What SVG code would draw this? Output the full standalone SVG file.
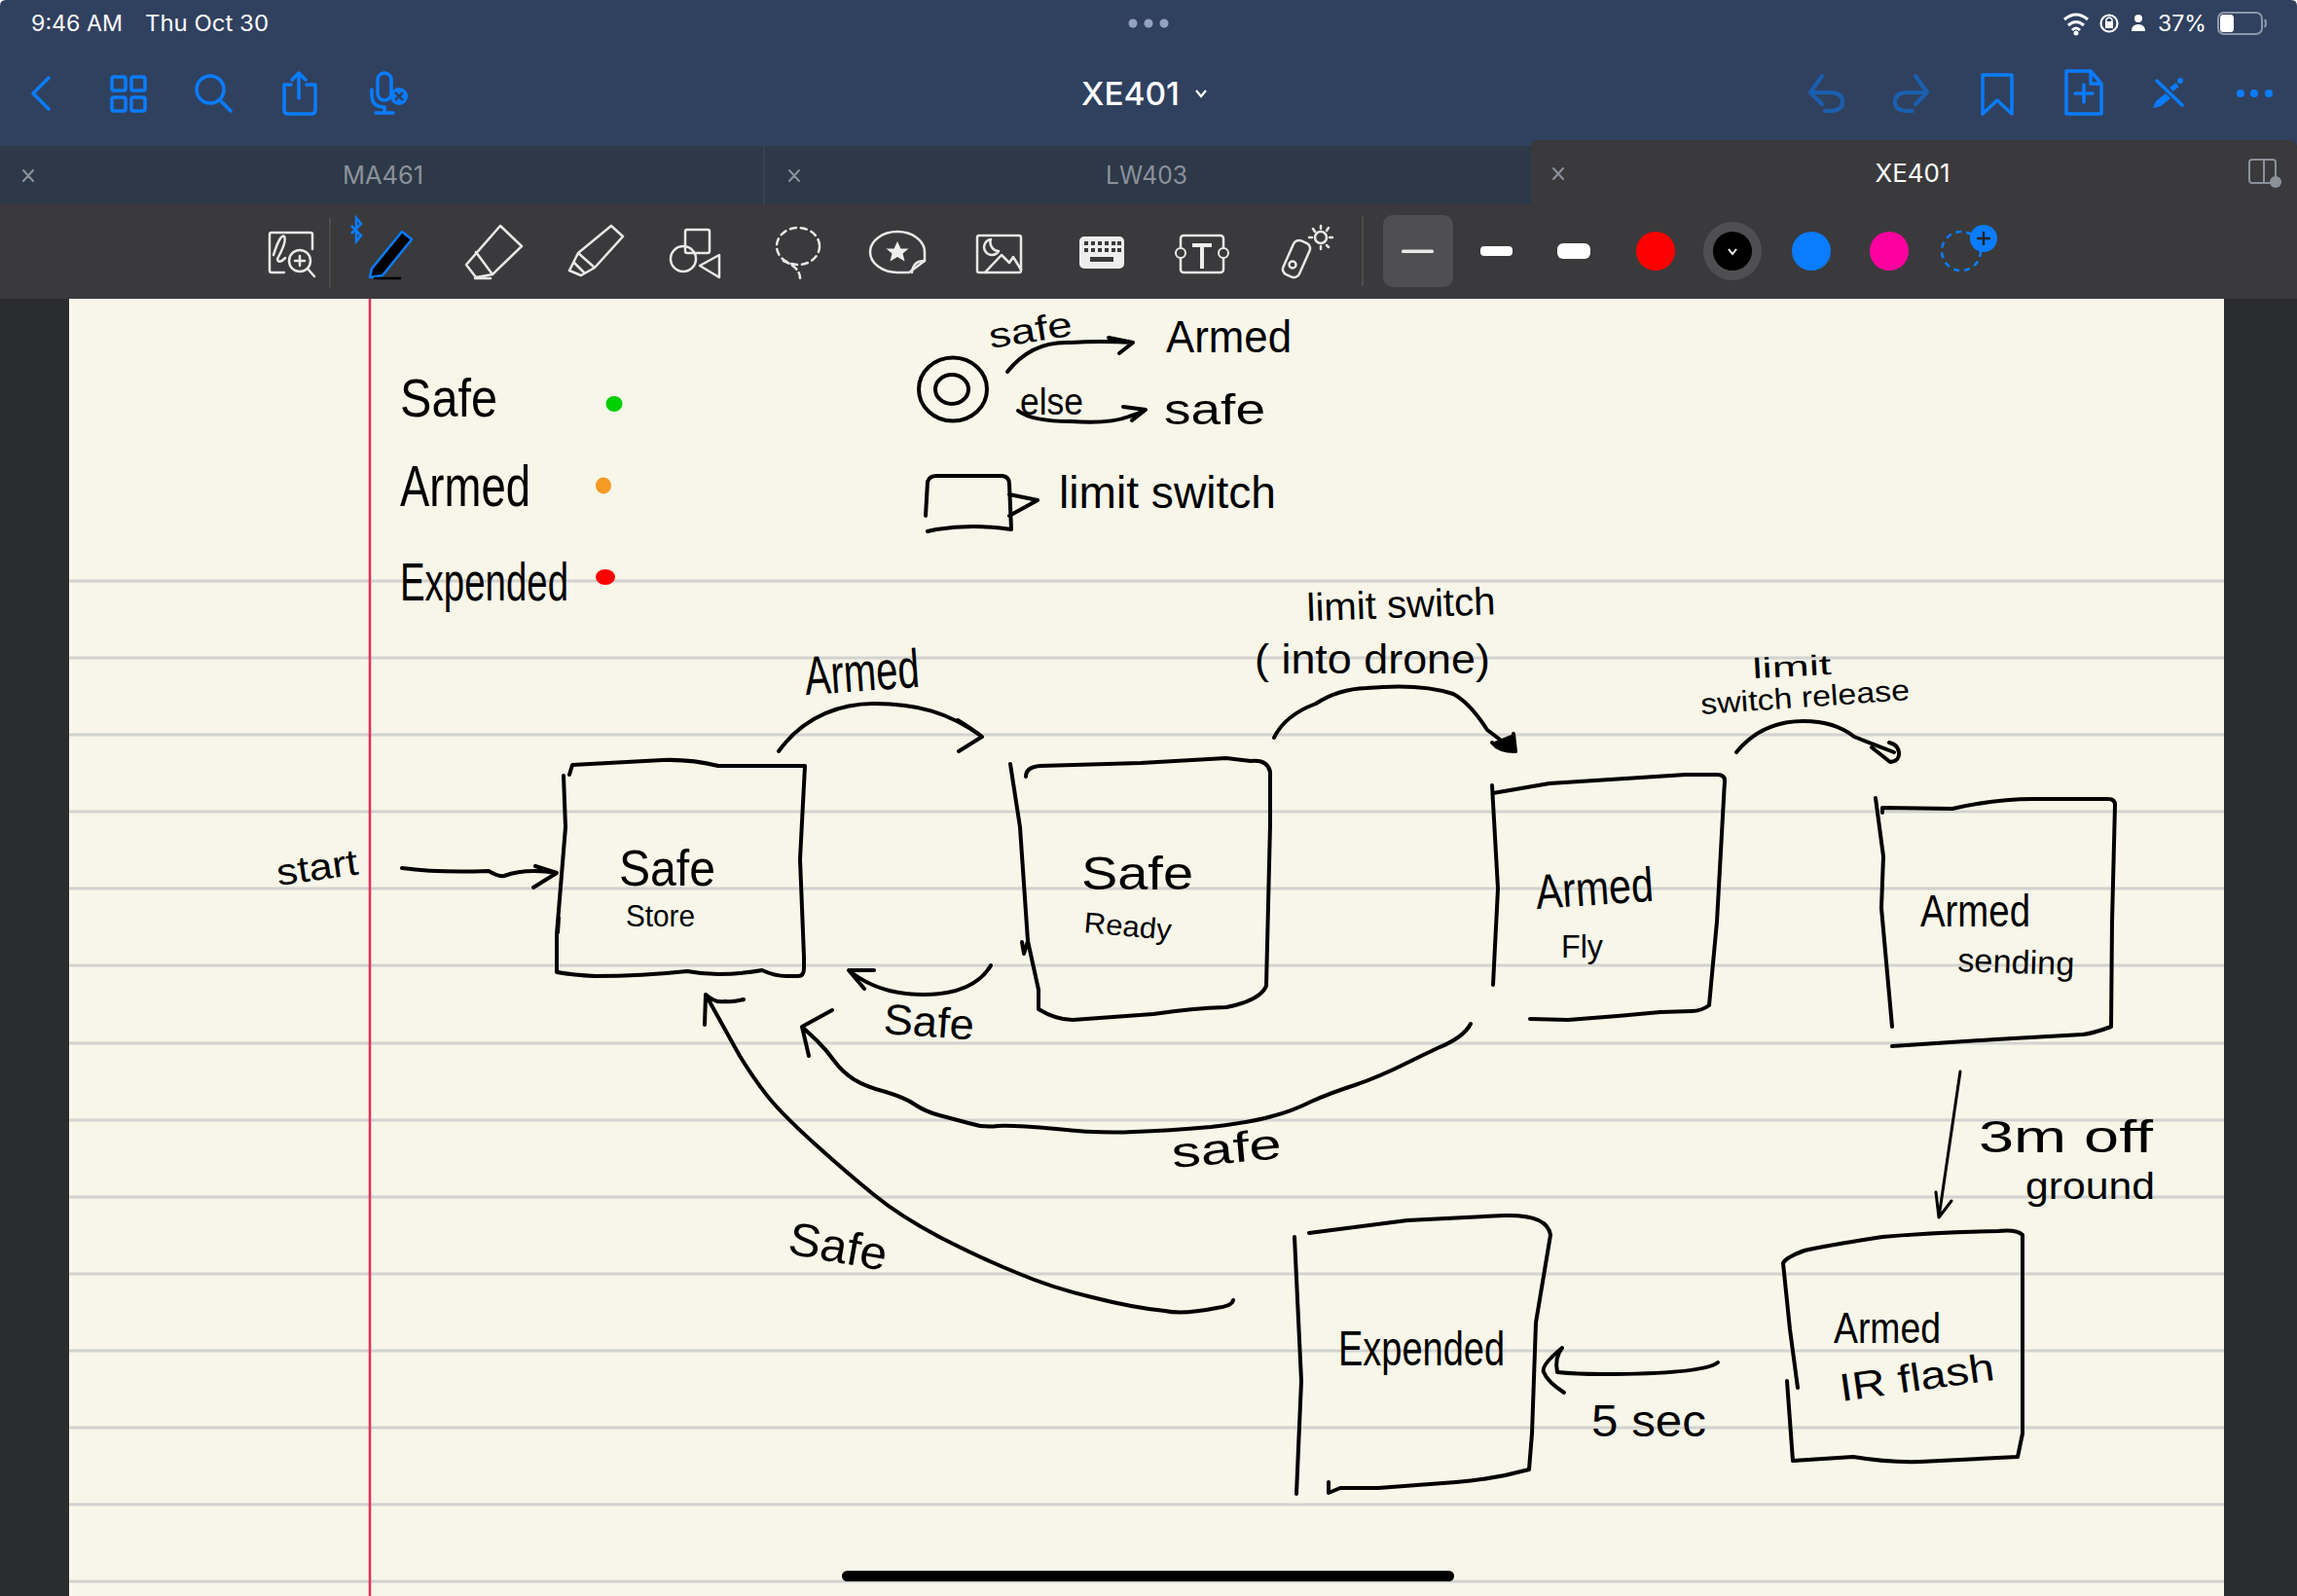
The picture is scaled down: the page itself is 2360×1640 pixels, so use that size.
<svg xmlns="http://www.w3.org/2000/svg" width="2360" height="1640" viewBox="0 0 2360 1640">
<style>
.ui{font-family:"Inter","Liberation Sans",sans-serif}
.hand{font-family:"Liberation Sans","Noto Sans",sans-serif;fill:#000}
.rule{stroke:#d2d2d0;stroke-width:3}
.ink{fill:none;stroke:#000;stroke-width:4;stroke-linecap:round;stroke-linejoin:round}
.blue{fill:none;stroke:#0a7cff;stroke-width:3.5;stroke-linecap:round;stroke-linejoin:round}
.dim{fill:none;stroke:#1a5fb0;stroke-width:4;stroke-linecap:round;stroke-linejoin:round}
.wht{fill:none;stroke:#e8e8e8;stroke-width:2.5;stroke-linecap:round;stroke-linejoin:round}
.x{fill:none;stroke:#8b919b;stroke-width:2;stroke-linecap:round}
</style>
<rect width="2360" height="1640" fill="#2b2c2e"/>
<g id="paper">
<rect x="71" y="307" width="2214" height="1333" fill="#f7f6e9"/>
<g class="rule">
<line x1="71" x2="2285" y1="597" y2="597"/><line x1="71" x2="2285" y1="676" y2="676"/><line x1="71" x2="2285" y1="755" y2="755"/><line x1="71" x2="2285" y1="834" y2="834"/><line x1="71" x2="2285" y1="913" y2="913"/><line x1="71" x2="2285" y1="992" y2="992"/><line x1="71" x2="2285" y1="1072" y2="1072"/><line x1="71" x2="2285" y1="1151" y2="1151"/><line x1="71" x2="2285" y1="1230" y2="1230"/><line x1="71" x2="2285" y1="1309" y2="1309"/><line x1="71" x2="2285" y1="1388" y2="1388"/><line x1="71" x2="2285" y1="1467" y2="1467"/><line x1="71" x2="2285" y1="1546" y2="1546"/><line x1="71" x2="2285" y1="1625" y2="1625"/>
</g>
<line x1="380" x2="380" y1="307" y2="1640" stroke="#e0305a" stroke-width="2.5"/>
</g>
<g id="top-bar">
<rect width="2360" height="150" fill="#30415f"/>
<path d="M0 0H6Q0 0 0 6ZM2360 0H2354Q2360 0 2360 6Z" fill="#fff"/>
<text class="ui" x="32" y="32" font-size="22.5" fill="#fff" textLength="94" lengthAdjust="spacingAndGlyphs">9:46 AM</text>
<text class="ui" x="149" y="32" font-size="22.5" fill="#fff" textLength="127" lengthAdjust="spacingAndGlyphs">Thu Oct 30</text>
<g fill="#93a3bf"><circle cx="1164" cy="24" r="4.5"/><circle cx="1180" cy="24" r="4.5"/><circle cx="1196" cy="24" r="4.5"/></g>
<text class="ui" x="1111" y="108" font-size="33" font-weight="500" fill="#fff" textLength="101" lengthAdjust="spacingAndGlyphs">XE401</text>
<path d="M1229 93l5 6l5-6" fill="none" stroke="#fff" stroke-width="2.2"/>
<path class="blue" d="M50 80L34 96L50 112"/>
<g class="blue"><rect x="115" y="79" width="14" height="14" rx="2"/><rect x="135" y="79" width="14" height="14" rx="2"/><rect x="115" y="100" width="14" height="14" rx="2"/><rect x="135" y="100" width="14" height="14" rx="2"/>
<circle cx="216" cy="92" r="14"/><path d="M226 103L237 114"/>
<path d="M299 87H292V113Q292 117 296 117H320Q324 117 324 113V87H315M307 101V75M300 82L307 75L314 82"/>
<rect x="388" y="75" width="14" height="28" rx="7"/><path d="M382 92V98Q382 110 395 110V116M386 116H404"/></g>
<circle cx="410" cy="99" r="9" fill="#0a7cff"/><path d="M406 95l8 8M414 95l-8 8" stroke="#30415f" stroke-width="2.5"/>
<path class="dim" d="M1872 78L1860 95L1872 107M1860 95H1880Q1893 95 1893 105Q1893 114 1880 114H1875"/>
<path class="dim" d="M1968 78L1980 95L1968 107M1980 95H1960Q1947 95 1947 105Q1947 114 1960 114H1965"/>
<path class="blue" d="M2037 77H2067V117L2052 103L2037 117Z"/>
<path class="blue" d="M2123 73H2148L2159 86V117H2123ZM2148 73V86H2159M2141 87V105M2132 96H2150"/>
<path class="blue" d="M2216 83L2242 108"/>
<path d="M2212 111L2215 104L2225 96L2230 101L2220 109Z" fill="#0a7cff"/><path d="M2231 92L2237 87" stroke="#0a7cff" stroke-width="5" fill="none"/><circle cx="2240" cy="83" r="3" fill="#0a7cff"/>
<g fill="#0a7cff"><circle cx="2302" cy="96" r="4"/><circle cx="2316" cy="96" r="4"/><circle cx="2331" cy="96" r="4"/></g>
<path d="M2121 20Q2133 10 2145 20M2125 26Q2133 19 2141 26M2129 31Q2133 27 2137 31" fill="none" stroke="#fff" stroke-width="3"/><circle cx="2133" cy="34" r="2.5" fill="#fff"/>
<circle cx="2167" cy="24" r="8.5" fill="none" stroke="#fff" stroke-width="2.2"/><rect x="2163" y="22" width="8" height="7" fill="#fff"/><path d="M2164 22v-2q3-4 6 0v2" fill="none" stroke="#fff" stroke-width="1.5"/>
<circle cx="2197" cy="19" r="4" fill="#fff"/><path d="M2190 32Q2190 25 2197 25Q2204 25 2204 32Z" fill="#fff"/>
<text class="ui" x="2217" y="32" font-size="22.5" fill="#fff" textLength="50" lengthAdjust="spacingAndGlyphs">37%</text>
<rect x="2279" y="13" width="45" height="22" rx="6" fill="none" stroke="#8b97aa" stroke-width="2"/><rect x="2281" y="15" width="14" height="18" rx="3.5" fill="#fff"/><path d="M2327 20q2 4 0 8" fill="none" stroke="#8b97aa" stroke-width="2"/>
</g>
<g id="tabs">
<rect x="0" y="150" width="1573" height="60" fill="#2d3848"/>
<line x1="785" x2="785" y1="150" y2="210" stroke="#3a4556" stroke-width="1.5"/>
<path class="x" d="M24 175l10 11M34 175l-10 11M811 175l10 11M821 175l-10 11"/>
<text class="ui" x="393.5" y="189" font-size="25" fill="#8b919b" text-anchor="middle" textLength="83" lengthAdjust="spacingAndGlyphs">MA461</text>
<text class="ui" x="1178" y="189" font-size="25" fill="#8b919b" text-anchor="middle" textLength="84" lengthAdjust="spacingAndGlyphs">LW403</text>
<path d="M1573 210V152Q1573 144 1581 144H2352Q2360 144 2360 152V210Z" fill="#3a3a3c"/>
<path class="x" d="M1596 173l10 11M1606 173l-10 11"/>
<text class="ui" x="1965" y="187" font-size="25" fill="#fff" text-anchor="middle" textLength="77" lengthAdjust="spacingAndGlyphs">XE401</text>
<rect x="2311" y="164" width="27" height="24" rx="3" fill="none" stroke="#8b919b" stroke-width="2"/><line x1="2326" x2="2326" y1="164" y2="188" stroke="#8b919b" stroke-width="2"/><circle cx="2338" cy="187" r="6" fill="#8b919b"/>
</g>
<g id="toolbar">
<rect y="210" width="2360" height="97" fill="#3a3a3c"/>
<g class="wht">
<path d="M292 280H279Q277 280 277 278V241Q277 239 279 239H319Q321 239 321 241V256"/><path d="M281 262Q288 240 292 243Q295 248 285 266Q286 272 293 265"/><circle cx="308" cy="268" r="11"/><path d="M316 276L323 284M308 263V273M303 268H313"/>
</g>
<line x1="339" x2="339" y1="224" y2="296" stroke="#555" stroke-width="1.5"/>
<path d="M361 232L371 242L366 248V224L371 230L361 240" fill="none" stroke="#0a7cff" stroke-width="2.5"/>
<path d="M380 285L382 276L413 238L423 246L393 283Z" fill="#000" stroke="#0a7cff" stroke-width="2.5" stroke-linejoin="round"/><line x1="384" x2="412" y1="286" y2="286" stroke="#000" stroke-width="2.5"/>
<g class="wht">
<path d="M514 232L536 253L506 282L489 285L479 272ZM489 259L506 282M488 286H504"/>
<path d="M628 232L640 243L611 275L597 283L585 278L594 260ZM594 260L611 275M590 270L600 280"/>
<rect x="704" y="236" width="25" height="24" rx="2"/><circle cx="702" cy="266" r="13"/><path d="M739 262V285L719 273Z"/>
<ellipse cx="820" cy="253" rx="22" ry="19" stroke-dasharray="6 5"/><path d="M805 268Q822 275 822 286" stroke-dasharray="6 4"/>
<path d="M950 259A28 21 0 1 0 922 280H934L950 268Z"/><path d="M937 280Q938 268 950 268"/>
<rect x="1004" y="242" width="45" height="38" rx="2"/><path d="M1012 280L1029 262L1037 270L1041 264L1049 277M1018 246A8 8 0 1 0 1026 258A9 9 0 0 1 1018 246Z"/>
<rect x="1213" y="242" width="44" height="38" rx="3"/>
</g>
<path d="M922 248l3.500 7.500h8l-6 5l2 8l-7.500-4.500l-7.500 4.500l2-8l-6-5h8Z" fill="#eee"/>
<rect x="1109" y="243" width="46" height="33" rx="5" fill="#eee"/>
<g fill="#3a3a3c"><rect x="1114" y="248" width="4" height="4"/><rect x="1121" y="248" width="4" height="4"/><rect x="1128" y="248" width="4" height="4"/><rect x="1135" y="248" width="4" height="4"/><rect x="1142" y="248" width="4" height="4"/><rect x="1148" y="248" width="4" height="4"/><rect x="1114" y="255" width="4" height="4"/><rect x="1121" y="255" width="4" height="4"/><rect x="1128" y="255" width="4" height="4"/><rect x="1135" y="255" width="4" height="4"/><rect x="1142" y="255" width="4" height="4"/><rect x="1148" y="255" width="4" height="4"/><rect x="1120" y="264" width="24" height="5"/></g>
<rect x="1208" y="255" width="10" height="10" rx="5" fill="#3a3a3c" stroke="#e8e8e8" stroke-width="2"/><rect x="1252" y="255" width="10" height="10" rx="5" fill="#3a3a3c" stroke="#e8e8e8" stroke-width="2"/>
<path d="M1225 252H1245M1235 252V276" fill="none" stroke="#eee" stroke-width="4"/>
<g class="wht"><rect x="1323" y="247" width="18" height="38" rx="6" transform="rotate(24 1332 266)"/><circle cx="1328" cy="272" r="3.500"/><circle cx="1357" cy="244" r="6"/><path d="M1357 232V235M1357 253V256M1345 244H1348M1366 244H1369M1349 235L1351 238M1363 252L1365 254M1365 234L1363 237"/></g>
<line x1="1400" x2="1400" y1="222" y2="294" stroke="#555" stroke-width="1.5"/>
<rect x="1421" y="221" width="72" height="74" rx="10" fill="#4f4f52"/>
<rect x="1440" y="256.500" width="33" height="3.500" rx="1.500" fill="#e8e8e8"/>
<rect x="1521" y="253" width="33" height="10" rx="4" fill="#fff"/>
<rect x="1600" y="250" width="34" height="16" rx="6" fill="#fff"/>
<circle cx="1701" cy="258" r="20" fill="#f00"/>
<circle cx="1780" cy="258" r="30" fill="#4f4f52"/><circle cx="1780" cy="258" r="20" fill="#000"/><path d="M1776 256l4 5l4-5" fill="none" stroke="#fff" stroke-width="2"/>
<circle cx="1861" cy="258" r="20" fill="#0a7cff"/>
<circle cx="1941" cy="258" r="20" fill="#ff00a0"/>
<circle cx="2015" cy="258" r="20" fill="none" stroke="#0a7cff" stroke-width="2.5" stroke-dasharray="6 5"/>
<circle cx="2038" cy="245" r="14" fill="#0a7cff"/><path d="M2038 238V252M2031 245H2045" stroke="#222" stroke-width="2.500"/>
</g>
<g id="connectors" class="ink">
<g id="edge-start"><path d="M413 892Q450 897 502 895Q512 901 518 900Q540 892 572 897M550 890L572 897L548 912"/></g>
<g id="edge-armed"><path d="M800 772C828 733 868 723 898 723C942 723 975 732 1009 757M984 740Q1000 750 1009 757L985 772"/></g>
<g id="edge-limit"><path d="M1309 758Q1320 735 1352 723Q1375 708 1404 707Q1460 702 1493 713Q1510 722 1528 750L1557 772"/><path d="M1555 754L1557 772Q1540 772 1533 763" fill="#000"/></g>
<g id="edge-release"><path d="M1784 773Q1810 741 1853 741Q1885 741 1905 757Q1925 765 1946 773M1923 768L1942 783Q1952 782 1951 773Q1950 765 1941 763"/></g>
<g id="edge-safe-ready"><path d="M1018 992C1008 1010 985 1022 949 1022C915 1022 890 1012 872 997M898 997H872L888 1016"/></g>
<g id="edge-safe-fly"><path d="M1511 1052Q1504 1066 1477 1077Q1460 1085 1446 1092Q1416 1107 1392 1115Q1367 1123 1347 1132Q1327 1142 1307 1147Q1287 1153 1244 1158Q1200 1162 1165 1163Q1130 1165 1085 1160Q1040 1156 1025 1157Q1010 1159 995 1154Q980 1150 965 1146Q950 1142 940 1135Q930 1128 910 1122Q890 1117 877 1109Q865 1101 857 1090Q850 1080 840 1070L824 1055M831 1085L824 1055L855 1038"/></g>
<g id="edge-safe-expended"><path d="M1267 1336Q1266 1342 1250 1344Q1215 1351 1197 1347Q1165 1344 1122 1333Q1080 1323 1045 1308Q1010 1294 967 1272Q925 1250 897 1227Q870 1205 840 1178Q810 1151 795 1134Q780 1117 760 1085L725 1022M724 1053L725 1022Q735 1031 745 1029Q755 1030 764 1027"/></g>
<g id="edge-off-ground"><path d="M2014 1101L1992 1251M1989 1225L1992 1251L2005 1234" style="stroke-width:3"/></g>
<g id="edge-5sec"><path d="M1765 1400Q1750 1412 1645 1412Q1620 1412 1600 1410Q1597 1395 1605 1385M1605 1385Q1583 1403 1586 1410Q1590 1420 1607 1431"/></g>
</g>
<g id="legend">
<text class="hand" x="411" y="428" font-size="56" textLength="100" lengthAdjust="spacingAndGlyphs">Safe</text>
<ellipse cx="631" cy="415" rx="8.500" ry="8" fill="#00cf00"/>
<text class="hand" x="411" y="520" font-size="60" textLength="134" lengthAdjust="spacingAndGlyphs">Armed</text>
<ellipse cx="620" cy="499" rx="8" ry="8.500" fill="#f59a23"/>
<text class="hand" x="411" y="617" font-size="56" textLength="173" lengthAdjust="spacingAndGlyphs">Expended</text>
<ellipse cx="622" cy="593" rx="10" ry="8" fill="#f00"/>
</g>
<g id="key-button">
<ellipse class="ink" cx="979" cy="400" rx="35" ry="32.500"/>
<ellipse class="ink" cx="978" cy="400" rx="17" ry="15"/>
<path class="ink" d="M1035 382Q1060 350 1100 352Q1130 350 1164 352M1139 347L1164 352L1150 363"/>
<path class="ink" d="M1046 422Q1060 433 1100 433Q1139 436 1160 428Q1170 425 1177 421M1154 418L1177 421L1163 432"/>
<text class="hand" x="1018" y="358" font-size="36" textLength="86" lengthAdjust="spacingAndGlyphs" transform="rotate(-9 1018 358)">safe</text>
<text class="hand" x="1198" y="362" font-size="46" textLength="129" lengthAdjust="spacingAndGlyphs">Armed</text>
<text class="hand" x="1048" y="426" font-size="38" textLength="65" lengthAdjust="spacingAndGlyphs">else</text>
<text class="hand" x="1196" y="436" font-size="44" textLength="104" lengthAdjust="spacingAndGlyphs">safe</text>
</g>
<g id="key-switch">
<path class="ink" d="M951 530L953 495Q955 489 962 489H1030Q1037 490 1037 497L1039 544Q1000 538 962 544L953 546M1037 508L1066 514L1037 530"/>
<text class="hand" x="1088" y="522" font-size="46" textLength="223" lengthAdjust="spacingAndGlyphs">limit switch</text>
</g>
<g id="node-safe-store">
<path class="ink" d="M579 797L581 850L572 960V999Q590 1002 611 1003Q660 1003 706 998Q722 1001 738 1001Q760 1001 783 997Q796 1003 808 1003H820Q826 1003 826 995V983L822 883L827 787H738Q710 780 681 781L588 786L585 796M574 943L573 958"/>
<text class="hand" x="636" y="910" font-size="52" textLength="99" lengthAdjust="spacingAndGlyphs">Safe</text>
<text class="hand" x="643" y="952" font-size="32" textLength="71" lengthAdjust="spacingAndGlyphs">Store</text>
</g>
<text id="label-start" class="hand" x="286" y="910" font-size="38" textLength="84" lengthAdjust="spacingAndGlyphs" transform="rotate(-8 286 910)">start</text>
<text id="label-armed" class="hand" x="828" y="714" font-size="56" textLength="118" lengthAdjust="spacingAndGlyphs" transform="rotate(-4 828 714)">Armed</text>
<g id="node-safe-ready">
<path class="ink" d="M1038 785L1048 850L1056 967L1067 1017V1037Q1085 1048 1102 1048L1185 1042Q1225 1036 1260 1035Q1295 1028 1301 1013L1305 847V793Q1302 780 1285 782L1260 779L1172 784L1069 787Q1054 788 1054 798M1050 968L1052 980L1056 967"/>
<text class="hand" x="1111" y="914" font-size="48" textLength="115" lengthAdjust="spacingAndGlyphs">Safe</text>
<text class="hand" x="1113" y="958" font-size="30" textLength="90" lengthAdjust="spacingAndGlyphs" transform="rotate(5 1113 958)">Ready</text>
</g>
<text id="label-safe-1" class="hand" x="907" y="1062" font-size="44" textLength="93" lengthAdjust="spacingAndGlyphs" transform="rotate(4 907 1062)">Safe</text>
<g id="node-armed-fly">
<path class="ink" d="M1533 807L1539 913L1534 1012M1534 815L1592 805L1732 796H1764Q1772 796 1772 802L1764 947L1756 1033Q1748 1039 1738 1039L1706 1040L1662 1044L1611 1048L1572 1047"/>
<text class="hand" x="1579" y="934" font-size="50" textLength="121" lengthAdjust="spacingAndGlyphs" transform="rotate(-4 1579 934)">Armed</text>
<text class="hand" x="1604" y="984" font-size="34" textLength="43" lengthAdjust="spacingAndGlyphs">Fly</text>
</g>
<text id="label-limit" class="hand" x="1343" y="638" font-size="40" textLength="194" lengthAdjust="spacingAndGlyphs" transform="rotate(-2 1343 638)">limit switch</text>
<text id="label-into" class="hand" x="1289" y="692" font-size="42" textLength="242" lengthAdjust="spacingAndGlyphs">( into drone)</text>
<text id="label-limit-2" class="hand" x="1801" y="697" font-size="29" textLength="81" lengthAdjust="spacingAndGlyphs" transform="rotate(-3 1801 697)">limit</text>
<text id="label-release" class="hand" x="1748" y="734" font-size="30" textLength="215" lengthAdjust="spacingAndGlyphs" transform="rotate(-4 1748 734)">switch release</text>
<g id="node-armed-sending">
<path class="ink" d="M1927 820L1935 880L1933 933L1944 1055M1934 835V830L2006 831Q2050 821 2089 821L2166 821Q2173 821 2173 827L2170 947L2169 1055Q2150 1062 2140 1063L2051 1068L1944 1075"/>
<text class="hand" x="1973" y="952" font-size="46" textLength="113" lengthAdjust="spacingAndGlyphs">Armed</text>
<text class="hand" x="2011" y="998" font-size="34" textLength="120" lengthAdjust="spacingAndGlyphs" transform="rotate(2 2011 998)">sending</text>
</g>
<text id="label-3m" class="hand" x="2033" y="1184" font-size="46" textLength="179" lengthAdjust="spacingAndGlyphs">3m off</text>
<text id="label-ground" class="hand" x="2081" y="1232" font-size="38" textLength="133" lengthAdjust="spacingAndGlyphs">ground</text>
<text id="label-safe-2" class="hand" x="1205" y="1200" font-size="44" textLength="113" lengthAdjust="spacingAndGlyphs" transform="rotate(-5 1205 1200)">safe</text>
<text id="label-safe-3" class="hand" x="808" y="1288" font-size="48" textLength="102" lengthAdjust="spacingAndGlyphs" transform="rotate(10 808 1288)">Safe</text>
<g id="node-expended">
<path class="ink" d="M1330 1271L1337 1419L1332 1535M1345 1267L1446 1254L1546 1249Q1590 1248 1593 1269L1578 1359L1574 1473L1571 1510Q1535 1520 1496 1523L1416 1529H1377L1365 1534V1523"/>
<text class="hand" x="1375" y="1403" font-size="50" textLength="171" lengthAdjust="spacingAndGlyphs">Expended</text>
</g>
<text id="label-5sec" class="hand" x="1635" y="1476" font-size="46" textLength="118" lengthAdjust="spacingAndGlyphs">5 sec</text>
<g id="node-armed-ir-flash">
<path class="ink" d="M1832 1298L1839 1366L1847 1426M1836 1419L1842 1501L1904 1497Q1940 1503 1973 1502L2073 1497L2078 1473V1269Q2072 1263 2053 1265Q1990 1266 1934 1271Q1875 1280 1854 1285Q1835 1292 1832 1298"/>
<text class="hand" x="1884" y="1380" font-size="44" textLength="110" lengthAdjust="spacingAndGlyphs">Armed</text>
<text class="hand" x="1892" y="1440" font-size="40" textLength="160" lengthAdjust="spacingAndGlyphs" transform="rotate(-8 1892 1440)">IR flash</text>
</g>
<rect id="home-bar" x="865" y="1614" width="629" height="11" rx="5.500" fill="#000"/>
</svg>
